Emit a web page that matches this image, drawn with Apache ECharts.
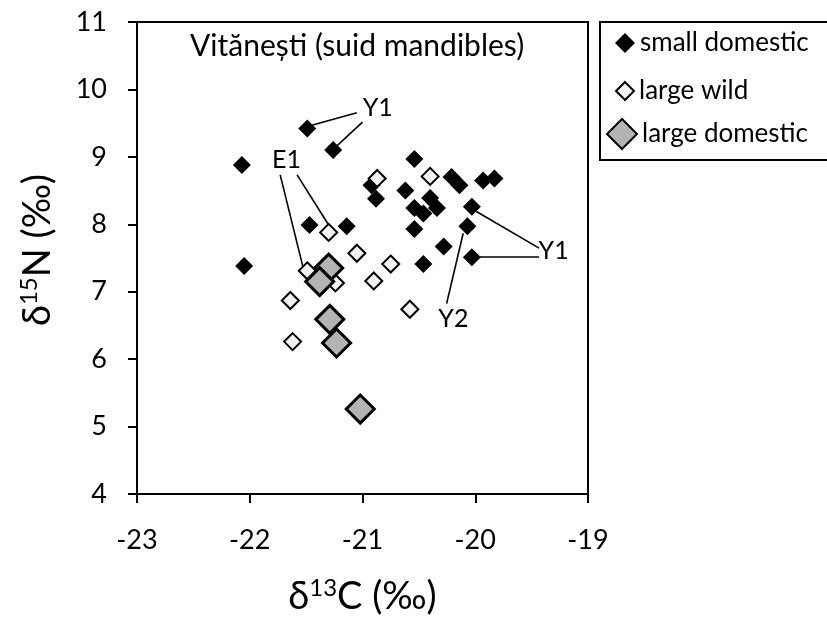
<!DOCTYPE html>
<html><head><meta charset="utf-8">
<script src="https://cdn.jsdelivr.net/npm/echarts@6/dist/echarts.min.js"></script>
<style>html,body{margin:0;padding:0;background:#fff}#c{width:827px;height:621px}</style>
</head><body><div id="c"></div>
<script>
// ---- data (δ13C, δ15N) ----
const smallDomestic = [
  [-21.49, 9.42], [-21.26, 9.10], [-22.07, 8.88], [-21.47, 7.99], [-21.14, 7.97],
  [-22.05, 7.38], [-20.92, 8.58], [-20.88, 8.38], [-20.54, 8.97], [-20.21, 8.70],
  [-20.14, 8.58], [-19.93, 8.65], [-19.83, 8.68], [-20.62, 8.50], [-20.03, 8.26],
  [-20.07, 7.97], [-20.28, 7.67], [-20.03, 7.51], [-20.46, 7.41], [-20.54, 7.93],
  [-20.54, 8.24], [-20.40, 8.39], [-20.34, 8.24], [-20.46, 8.16]
];
const largeWild = [
  [-21.30, 7.88], [-21.05, 7.57], [-20.75, 7.41], [-21.49, 7.31], [-20.90, 7.16],
  [-20.87, 8.68], [-20.40, 8.71], [-20.58, 6.74], [-21.24, 7.13], [-21.64, 6.87],
  [-21.62, 6.26]
];
const largeDomestic = [
  [-21.30, 7.35], [-21.38, 7.15], [-21.29, 6.59], [-21.23, 6.24], [-21.02, 5.26]
];
const seriesNames = ['small domestic', 'large wild', 'large domestic'];
const xTickMin = -23, xTickMax = -19, yTickMin = 4, yTickMax = 11;
const chartTitle = 'Vitănești (suid mandibles)';
const annotationLabels = [
  ['Y1', -20.86, 9.72], ['E1', -21.67, 8.94], ['Y1', -19.30, 7.60], ['Y2', -20.19, 6.59]
];
const annotationLines = [
  [[-21.05, 9.654], [-21.45, 9.47]],
  [[-21.00, 9.516], [-21.23, 9.16]],
  [[-21.73, 8.733], [-21.53, 7.38]],
  [[-21.58, 8.733], [-21.30, 7.99]],
  [[-19.434, 7.647], [-19.99, 8.19]],
  [[-19.434, 7.525], [-19.96, 7.525]],
  [[-20.254, 6.824], [-20.107, 7.867]]
];

const FONT = 'Lato';
const chart = echarts.init(document.getElementById('c'), null, {renderer: 'canvas'});
const axisCommon = {
  axisLine: {show: true, onZero: false, lineStyle: {color: '#000', width: 2}},
  axisTick: {show: true, inside: false, length: 9, lineStyle: {color: '#000', width: 2}},
  splitLine: {show: false},
};
function legendFor(name, left, top, size) {
  return {
    data: [name], left: left, top: top, padding: 0, itemWidth: size, itemHeight: size,
    selectedMode: false, orient: 'vertical',
    textStyle: {fontFamily: FONT, fontSize: 26, color: '#000'}
  };
}
const nameRich = {
  a: {fontFamily: FONT, fontSize: 38, color: '#000', lineHeight: 46, verticalAlign: 'middle'},
  b: {fontFamily: FONT, fontSize: 24, color: '#000', lineHeight: 46, verticalAlign: 'top', padding: [2, 0, 0, 0]}
};
chart.setOption({
  animation: false,
  backgroundColor: '#fff',
  title: {
    text: chartTitle, left: 190, top: 31, padding: 0,
    textStyle: {fontFamily: FONT, fontSize: 30, fontWeight: 'normal', color: '#000'}
  },
  grid: {left: 137, right: 239, top: 22, bottom: 123, show: true, borderColor: '#000', borderWidth: 2, containLabel: false},
  legend: [
    legendFor(seriesNames[0], 615, 30, 20),
    legendFor(seriesNames[1], 615, 78, 18),
    legendFor(seriesNames[2], 606, 118, 30)
  ],
  xAxis: Object.assign({
    type: 'value', min: xTickMin, max: xTickMax, interval: 1,
    axisLabel: {fontFamily: FONT, fontSize: 27, color: '#000', margin: 33},
    name: '{a|δ}{b|13}{a|C (‰)}', nameLocation: 'middle', nameGap: 80,
    nameTextStyle: {rich: nameRich}
  }, axisCommon),
  yAxis: Object.assign({
    type: 'value', min: yTickMin, max: yTickMax, interval: 1,
    axisLabel: {fontFamily: FONT, fontSize: 27, color: '#000', margin: 30},
    name: '{a|δ}{b|15}{a|N (‰)}', nameLocation: 'middle', nameGap: 76,
    nameTextStyle: {padding: [0, 0, 0, 16], rich: nameRich}
  }, axisCommon),
  graphic: [{
    type: 'rect', shape: {x: 600, y: 22, width: 260, height: 138},
    style: {fill: 'none', stroke: '#000', lineWidth: 2}, z: 100
  }],
  series: [
    {
      name: 'annot-lines', type: 'lines', coordinateSystem: 'cartesian2d', z: 1, silent: true,
      lineStyle: {color: '#000', width: 1.6, opacity: 1},
      data: annotationLines.map(c => ({coords: c}))
    },
    {
      name: 'annot-labels', type: 'scatter', z: 2, silent: true, symbolSize: 1,
      itemStyle: {color: 'rgba(0,0,0,0)', opacity: 1},
      label: {show: true, position: [0, 0], align: 'center', verticalAlign: 'middle',
        formatter: p => p.data.name, opacity: 1,
        fontFamily: FONT, fontSize: 25, color: '#000'},
      data: annotationLabels.map(a => ({name: a[0], value: [a[1], a[2]]}))
    },
    {
      name: seriesNames[0], type: 'scatter', symbol: 'diamond', symbolSize: 18, z: 3,
      itemStyle: {color: '#000', opacity: 1}, data: smallDomestic
    },
    {
      name: seriesNames[1], type: 'scatter', symbol: 'diamond', symbolSize: 17, z: 4,
      itemStyle: {color: '#f2f2f2', borderColor: '#000', borderWidth: 2, opacity: 1}, data: largeWild
    },
    {
      name: seriesNames[2], type: 'scatter', symbol: 'diamond', symbolSize: 28, z: 5,
      itemStyle: {color: '#b3b3b3', borderColor: '#000', borderWidth: 3, opacity: 1}, data: largeDomestic
    }
  ]
});
</script>
</body></html>
